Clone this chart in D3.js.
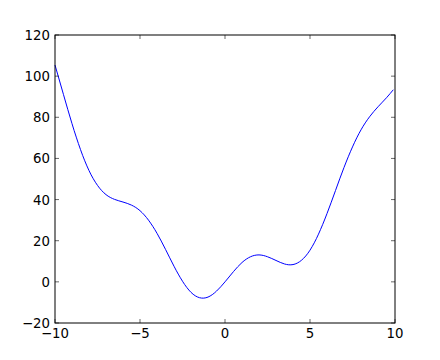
<!DOCTYPE html>
<html>
<head>
<meta charset="UTF-8">
<script src="https://d3js.org/d3.v7.min.js"></script>
<style>
  body { margin: 0; background: #fff; }
  text { font-family: "DejaVu Sans", sans-serif; font-size: 13.3px; fill: #000; }
</style>
</head>
<body>
<div id="chart"></div>
<script>
// values
const xs = [-10, -9.5, -9, -8.5, -8, -7.5, -7, -6.5, -6, -5.5, -5, -4.5, -4, -3.5, -3, -2.5, -2, -1.5, -1, -0.5,
            0, 0.5, 1, 1.5, 2, 2.5, 3, 3.5, 4, 4.5, 5, 5.5, 6, 6.5, 7, 7.5, 8, 8.5, 9, 9.5, 9.9];
const ys = [105.4, 91.0, 76.9, 64.3, 54.1, 46.9, 42.4, 40.1, 38.8, 37.3, 34.6, 30.0, 23.6, 15.8, 7.6, 0.3, -5.1, -7.7, -7.4, -4.5,
            0, 5.0, 9.4, 12.2, 13.1, 12.2, 10.4, 8.7, 8.4, 10.5, 15.4, 23.2, 33.2, 44.4, 55.6, 65.6, 73.9, 80.2, 85.1, 89.5, 93.4];
const xTicks = [-10, -5, 0, 5, 10];
const yTicks = [-20, 0, 20, 40, 60, 80, 100, 120];

const width = 440, height = 360;
const margin = { left: 55, right: 45, top: 35, bottom: 37 };

const svg = d3.select("#chart").append("svg")
  .attr("width", width).attr("height", height);

const x = d3.scaleLinear().domain([-10, 10]).range([margin.left, width - margin.right]);
const y = d3.scaleLinear().domain([-20, 120]).range([height - margin.bottom, margin.top]);

const line = d3.line()
  .x((d, i) => x(xs[i]))
  .y(d => y(d))
  .curve(d3.curveNatural);

svg.append("path")
  .datum(ys)
  .attr("fill", "none")
  .attr("stroke", "#0000ff")
  .attr("stroke-width", 1)
  .attr("d", line);

// ticks inside, on all four sides
const tk = 4;
const g = svg.append("g").attr("stroke", "#000").attr("stroke-width", 0.6);
xTicks.forEach(t => {
  g.append("line").attr("x1", x(t)).attr("x2", x(t)).attr("y1", y(-20)).attr("y2", y(-20) - tk);
  g.append("line").attr("x1", x(t)).attr("x2", x(t)).attr("y1", y(120)).attr("y2", y(120) + tk);
});
yTicks.forEach(t => {
  g.append("line").attr("x1", x(-10)).attr("x2", x(-10) + tk).attr("y1", y(t)).attr("y2", y(t));
  g.append("line").attr("x1", x(10)).attr("x2", x(10) - tk).attr("y1", y(t)).attr("y2", y(t));
});

const fmt = d => d < 0 ? "\u2212" + Math.abs(d) : String(d);

svg.selectAll(".xl").data(xTicks).enter().append("text")
  .attr("x", d => x(d)).attr("y", y(-20) + 15)
  .attr("text-anchor", "middle").text(fmt);

svg.selectAll(".yl").data(yTicks).enter().append("text")
  .attr("x", x(-10) - 5).attr("y", d => y(d) + 5)
  .attr("text-anchor", "end").text(fmt);

svg.append("rect")
  .attr("x", x(-10)).attr("y", y(120))
  .attr("width", x(10) - x(-10)).attr("height", y(-20) - y(120))
  .attr("fill", "none").attr("stroke", "#000").attr("stroke-width", 1);
</script>
</body>
</html>
